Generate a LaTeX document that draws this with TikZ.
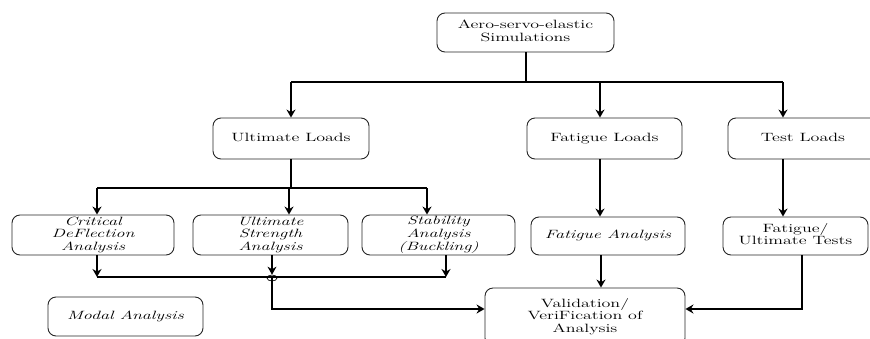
\documentclass[tikz,border=0pt]{standalone}
\usepackage{graphicx}
\usetikzlibrary{arrows.meta,shapes.geometric}
\tikzset{
  box/.style={draw=black!85, line width=0.9pt, rounded corners=8pt, inner sep=0pt,
    font=\fontsize{12}{12.5}\selectfont, text=black},
  arr/.style={line width=1.6pt, -{Stealth[length=8pt,width=9pt]}},
  ln/.style={line width=1.6pt},
}
\newcommand{\sxt}[1]{\scalebox{1.5}[1]{\begin{tabular}{@{}c@{}}#1\end{tabular}}}
\begin{document}
\begin{tikzpicture}[x=1pt,y=-1pt]
\useasboundingbox (0,0) rectangle (870,338);
% nodes
\node[box, minimum width=177pt, minimum height=39pt] (top) at (525.5,32.5) {\sxt{Aero-servo-elastic\\Simulations}};
\node[box, minimum width=156pt, minimum height=41pt] (UL) at (291,138.5) {\sxt{Ultimate Loads}};
\node[box, minimum width=155pt, minimum height=41pt] (FL) at (604.5,138.5) {\sxt{Fatigue Loads}};
\node[box, minimum width=150pt, minimum height=41pt] (TL) at (803,138.5) {\sxt{Test Loads}};
\node[box, minimum width=162pt, minimum height=40pt] (CDA) at (93,235) {\sxt{\itshape Critical\\\itshape DeFlection\\\itshape Analysis}};
\node[box, minimum width=155pt, minimum height=40pt] (USA) at (270.5,235) {\sxt{\itshape Ultimate\\\itshape Strength\\\itshape Analysis}};
\node[box, minimum width=153pt, minimum height=40pt] (SA) at (438.5,235) {\sxt{\itshape Stability\\\itshape Analysis\\\itshape (Buckling)}};
\node[box, minimum width=154pt, minimum height=38pt] (FA) at (608,236) {\sxt{\itshape Fatigue Analysis}};
\node[box, minimum width=145pt, minimum height=38pt] (FUT) at (795.5,236) {\sxt{Fatigue/\\Ultimate Tests}};
\node[box, minimum width=200pt, minimum height=58pt] (VAL) at (585,317) {\sxt{Validation/\\VeriFication of\\Analysis}};
\node[box, minimum width=155pt, minimum height=39pt] (MA) at (125.5,316.5) {\sxt{\itshape Modal Analysis}};
% coordinates
\coordinate (t1) at (526,82);
\coordinate (h1) at (291,82);
\coordinate (h2) at (600,82);
\coordinate (h3) at (783,82);
\coordinate (u1) at (291,188);
\coordinate (g1) at (97,188);
\coordinate (g2) at (289,188);
\coordinate (g3) at (427,188);
\coordinate (b1) at (97,277);
\coordinate (b3) at (446,277);
\coordinate (c1) at (272,309);
\coordinate (f1) at (802,309);
\coordinate (fa) at (601,0);
\node[draw, ellipse, minimum width=10pt, minimum height=6pt, inner sep=0pt, line width=0.7pt] (jn) at (272,278) {};
% connectors
\draw[ln] (top.south -| t1) -- (t1);
\draw[ln] (h1) -- (h3);
\draw[arr] (h1) -- (h1 |- UL.north);
\draw[arr] (h2) -- (h2 |- FL.north);
\draw[arr] (h3) -- (h3 |- TL.north);
\draw[ln] (UL.south -| u1) -- (u1);
\draw[ln] (g1) -- (g3);
\draw[arr] (g1) -- (g1 |- CDA.north);
\draw[arr] (g2) -- (g2 |- USA.north);
\draw[arr] (g3) -- (g3 |- SA.north);
\draw[arr] (CDA.south -| b1) -- (b1);
\draw[arr] (USA.south -| jn) -- (jn.north);
\draw[arr] (SA.south -| b3) -- (b3);
\draw[ln] (b1) -- (b3);
\draw[arr] (jn.center) -- (c1) -- (c1 -| VAL.west);
\draw[arr] (FL.south -| h2) -- (FA.north -| h2);
\draw[arr] (TL.south -| h3) -- (FUT.north -| h3);
\draw[arr] (FA.south -| fa) -- (VAL.north -| fa);
\draw[arr] (FUT.south -| f1) -- (f1) -- (f1 -| VAL.east);
\end{tikzpicture}
\end{document}
